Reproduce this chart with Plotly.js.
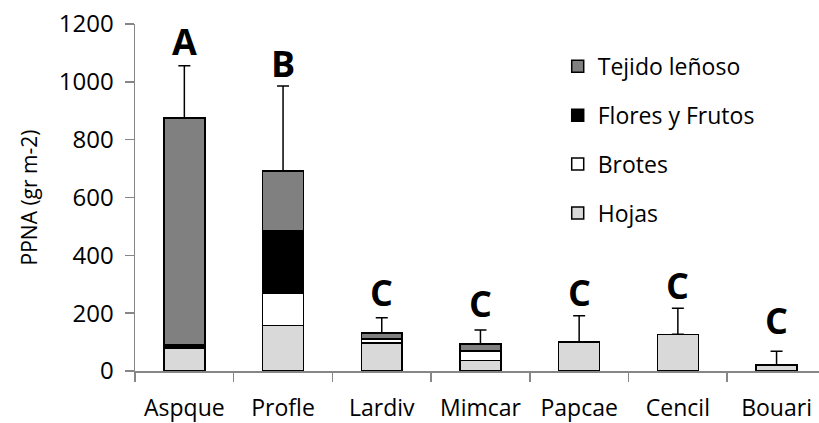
<!DOCTYPE html>
<html>
<head>
<meta charset="utf-8">
<script src="https://cdn.plot.ly/plotly-3.0.1.min.js"></script>
<style>html,body{margin:0;padding:0;background:#fff}#chart{width:819px;height:423px}</style>
</head>
<body>
<div id="chart"></div>
<script>
const categories = ['Aspque','Profle','Lardiv','Mimcar','Papcae','Cencil','Bouari'];
const hojas  = [78, 158, 96, 36, 100, 127, 20];
const brotes = [0, 111, 14, 33, 0, 0, 0];
const flores = [12, 216, 0, 0, 0, 0, 0];
const tejido = [785, 207, 22, 25, 0, 0, 0];
const errores = [181, 294, 52, 48, 91, 90, 48];
const letras = ['A','B','C','C','C','C','C'];
const letraY = [1138, 1065, 270, 235, 270, 297, 173];

const totals = categories.map((c,i)=>hojas[i]+brotes[i]+flores[i]+tejido[i]);
const FONT = 'Open Sans, sans-serif';
const line = {color:'#000', width:1.5};
function bar(name, y, color, group, rank){
  return {type:'bar', name:name, x:categories, y:y, legendgroup:group, legendrank:rank,
    marker:{color:color, line:line}, width:0.415, hoverinfo:'skip'};
}
const traces = [
  bar('Hojas', hojas, '#d9d9d9','g1', 4),
  bar('Brotes', brotes, '#ffffff','g2', 3),
  bar('Flores y Frutos', flores, '#000000','g3', 2),
  bar('Tejido leñoso', tejido, '#808080','g4', 1),
  {type:'scatter', mode:'markers', x:categories, y:totals, showlegend:false,
   marker:{opacity:0, size:1}, hoverinfo:'skip',
   error_y:{type:'data', symmetric:false, array:errores, arrayminus:errores.map(()=>0),
     color:'#000', thickness:1.5, width:6}}
];
const annotations = categories.map((c,i)=>({x:c, y:letraY[i], xref:'x', yref:'y',
  text:'<b>'+letras[i]+'</b>', showarrow:false, font:{family:FONT, size:36, color:'#000'}}));
const layout = {
  width:819, height:423,
  margin:{l:135, r:0, t:24, b:52},
  paper_bgcolor:'#fff', plot_bgcolor:'#fff',
  barmode:'stack', showlegend:true,
  font:{family:FONT, color:'#000'},
  xaxis:{type:'category', range:[-0.5, 6.43], showline:true, linecolor:'#868686', linewidth:1.5,
    ticks:'outside', tickson:'boundaries', ticklen:9, tickcolor:'#868686', tickwidth:1.5,
    ticklabelstandoff:16,
    tickfont:{family:FONT, size:23, color:'#000'}, showgrid:false, zeroline:false, fixedrange:true},
  yaxis:{range:[0,1200], dtick:200, showline:true, linecolor:'#868686', linewidth:1.5,
    ticks:'outside', ticklen:9, tickcolor:'#868686', tickwidth:1.5, showgrid:false, zeroline:false,
    ticklabelstandoff:6,
    tickfont:{family:FONT, size:24, color:'#000'},
    title:{text:'PPNA (gr m-2)', font:{family:FONT, size:21, color:'#000', weight:500}, standoff:15}},
  legend:{x:0.618, y:0.94, xanchor:'left', yanchor:'top', traceorder:'grouped',
    tracegroupgap:16, font:{family:FONT, size:23, color:'#000'}, bgcolor:'rgba(0,0,0,0)'},
  annotations:annotations
};
Plotly.newPlot('chart', traces, layout, {displayModeBar:false, staticPlot:true});
</script>
</body>
</html>
